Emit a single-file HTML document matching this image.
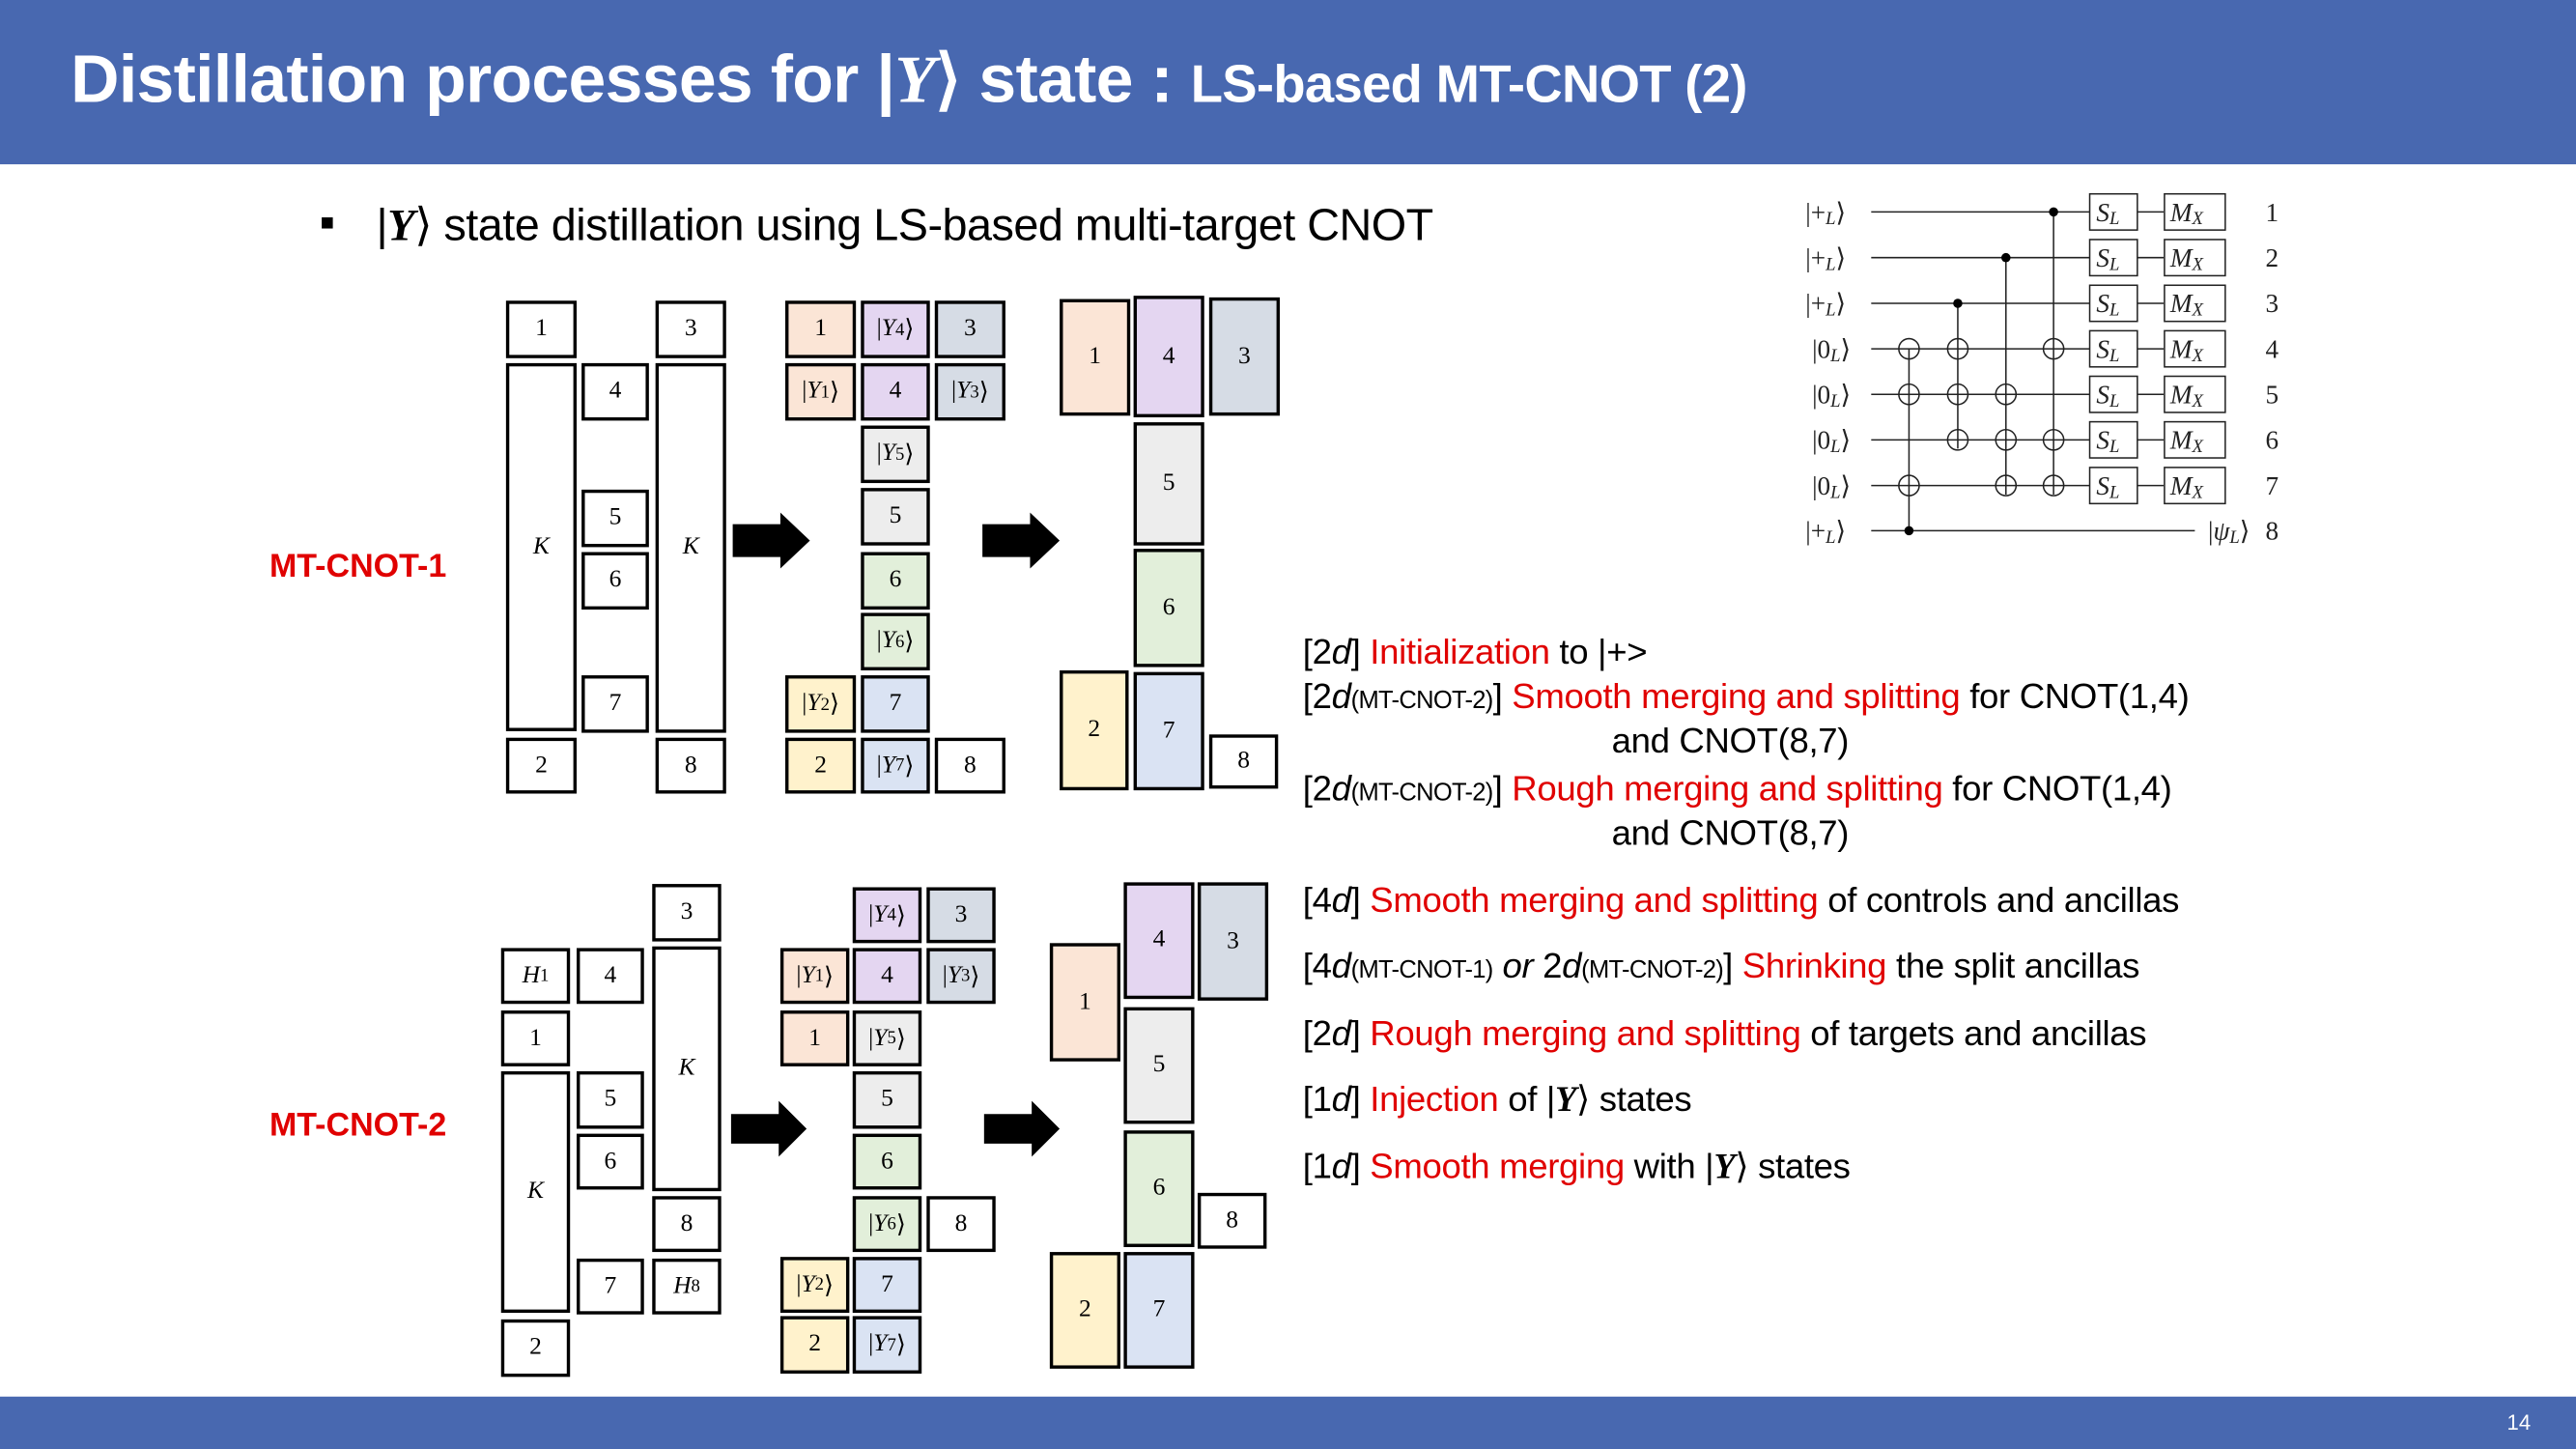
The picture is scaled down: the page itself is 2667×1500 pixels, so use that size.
<!DOCTYPE html>
<html><head><meta charset="utf-8">
<style>
html,body{margin:0;padding:0;background:#fff;}
body{width:2667px;height:1500px;overflow:hidden;position:relative;}
#s{position:absolute;left:0;top:0;width:1568px;height:882px;transform:scale(1.70089);transform-origin:0 0;font-family:"Liberation Sans",sans-serif;}
.hdr{position:absolute;left:0;top:0;width:1568px;height:100px;background:#4868b0;}
.ftr{position:absolute;left:0;top:850px;width:1568px;height:32px;background:#4868b0;}
.b{position:absolute;border:2px solid #000;box-sizing:border-box;display:flex;align-items:center;justify-content:center;font:15px "Liberation Serif",serif;color:#000;background:#fff;}
.b i{font-style:italic}
.b sub{font-size:11px}
.pe{background:#fbe5d6}.pu{background:#e4d6f1}.gb{background:#d6dce5}.lg{background:#ededed}.gr{background:#e2efda}.ye{background:#fff2cc}.bl{background:#dae3f3}
.t{position:absolute;left:793px;font-size:21.5px;letter-spacing:-0.2px;white-space:nowrap;color:#000;line-height:24px}
.t .r{color:#e00000}
.t small{font-size:15px;letter-spacing:-0.4px}
.lab{position:absolute;color:#e00000;font-weight:bold;font-size:20px;}
</style></head><body>
<div id="s">
<div class="hdr"></div>
<div style="position:absolute;left:43px;top:24px;color:#fff;font-weight:bold;font-size:41px;white-space:nowrap;letter-spacing:-0.4px">Distillation processes for |<i style="font-family:'Liberation Serif',serif">Y</i>⟩ state : <span style="font-size:32px">LS-based MT-CNOT (2)</span></div>
<div class="ftr"></div>
<div style="position:absolute;left:1526px;top:858px;color:#fff;font-size:13px">14</div>

<div style="position:absolute;left:195px;top:127px;font-size:14px">■</div>
<div style="position:absolute;left:229px;top:121px;font-size:27.5px;white-space:nowrap;letter-spacing:-0.3px">|<b><i style="font-family:'Liberation Serif',serif">Y</i></b>⟩ state distillation using LS-based multi-target CNOT</div>

<div class="lab" style="left:164px;top:334px">MT-CNOT-1</div>
<div class="lab" style="left:164px;top:674px">MT-CNOT-2</div>

<!-- Top left -->
<div class="b" style="left:308px;top:183px;width:43px;height:35px">1</div>
<div class="b" style="left:308px;top:221px;width:43px;height:224px"><i>K</i></div>
<div class="b" style="left:308px;top:449px;width:43px;height:34px">2</div>
<div class="b" style="left:354px;top:221px;width:41px;height:35px">4</div>
<div class="b" style="left:354px;top:298px;width:41px;height:35px">5</div>
<div class="b" style="left:354px;top:336px;width:41px;height:35px">6</div>
<div class="b" style="left:354px;top:411px;width:41px;height:35px">7</div>
<div class="b" style="left:399px;top:183px;width:43px;height:35px">3</div>
<div class="b" style="left:399px;top:221px;width:43px;height:225px"><i>K</i></div>
<div class="b" style="left:399px;top:449px;width:43px;height:34px">8</div>
<!-- Top middle -->
<div class="b pe" style="left:478px;top:183px;width:43px;height:35px">1</div>
<div class="b pu" style="left:524px;top:183px;width:42px;height:35px">|<i>Y</i><sub>4</sub>⟩</div>
<div class="b gb" style="left:569px;top:183px;width:43px;height:35px">3</div>
<div class="b pe" style="left:478px;top:221px;width:43px;height:35px">|<i>Y</i><sub>1</sub>⟩</div>
<div class="b pu" style="left:524px;top:221px;width:42px;height:35px">4</div>
<div class="b gb" style="left:569px;top:221px;width:43px;height:35px">|<i>Y</i><sub>3</sub>⟩</div>
<div class="b lg" style="left:524px;top:259px;width:42px;height:35px">|<i>Y</i><sub>5</sub>⟩</div>
<div class="b lg" style="left:524px;top:297px;width:42px;height:35px">5</div>
<div class="b gr" style="left:524px;top:336px;width:42px;height:35px">6</div>
<div class="b gr" style="left:524px;top:373px;width:42px;height:35px">|<i>Y</i><sub>6</sub>⟩</div>
<div class="b ye" style="left:478px;top:411px;width:43px;height:35px">|<i>Y</i><sub>2</sub>⟩</div>
<div class="b bl" style="left:524px;top:411px;width:42px;height:35px">7</div>
<div class="b ye" style="left:478px;top:449px;width:43px;height:34px">2</div>
<div class="b bl" style="left:524px;top:449px;width:42px;height:34px">|<i>Y</i><sub>7</sub>⟩</div>
<div class="b" style="left:569px;top:449px;width:43px;height:34px">8</div>
<!-- Top right -->
<div class="b pe" style="left:645px;top:182px;width:43px;height:71px">1</div>
<div class="b pu" style="left:690px;top:180px;width:43px;height:74px">4</div>
<div class="b gb" style="left:736px;top:181px;width:43px;height:72px">3</div>
<div class="b lg" style="left:690px;top:257px;width:43px;height:75px">5</div>
<div class="b gr" style="left:690px;top:334px;width:43px;height:72px">6</div>
<div class="b ye" style="left:645px;top:408px;width:42px;height:73px">2</div>
<div class="b bl" style="left:690px;top:409px;width:43px;height:72px">7</div>
<div class="b" style="left:736px;top:447px;width:42px;height:33px">8</div>

<!-- Bottom left -->
<div class="b" style="left:397px;top:538px;width:42px;height:35px">3</div>
<div class="b" style="left:305px;top:577px;width:42px;height:34px"><i>H</i><sub>1</sub></div>
<div class="b" style="left:351px;top:577px;width:41px;height:34px">4</div>
<div class="b" style="left:397px;top:576px;width:42px;height:149px"><i>K</i></div>
<div class="b" style="left:305px;top:615px;width:42px;height:34px">1</div>
<div class="b" style="left:305px;top:652px;width:42px;height:147px"><i>K</i></div>
<div class="b" style="left:351px;top:652px;width:41px;height:35px">5</div>
<div class="b" style="left:351px;top:690px;width:41px;height:34px">6</div>
<div class="b" style="left:397px;top:728px;width:42px;height:34px">8</div>
<div class="b" style="left:351px;top:766px;width:41px;height:34px">7</div>
<div class="b" style="left:397px;top:766px;width:42px;height:34px"><i>H</i><sub>8</sub></div>
<div class="b" style="left:305px;top:803px;width:42px;height:35px">2</div>
<!-- Bottom middle -->
<div class="b pu" style="left:519px;top:540px;width:42px;height:34px">|<i>Y</i><sub>4</sub>⟩</div>
<div class="b gb" style="left:564px;top:540px;width:42px;height:34px">3</div>
<div class="b pe" style="left:475px;top:577px;width:42px;height:34px">|<i>Y</i><sub>1</sub>⟩</div>
<div class="b pu" style="left:519px;top:577px;width:42px;height:34px">4</div>
<div class="b gb" style="left:564px;top:577px;width:42px;height:34px">|<i>Y</i><sub>3</sub>⟩</div>
<div class="b pe" style="left:475px;top:615px;width:42px;height:34px">1</div>
<div class="b lg" style="left:519px;top:615px;width:42px;height:34px">|<i>Y</i><sub>5</sub>⟩</div>
<div class="b lg" style="left:519px;top:652px;width:42px;height:35px">5</div>
<div class="b gr" style="left:519px;top:690px;width:42px;height:34px">6</div>
<div class="b gr" style="left:519px;top:728px;width:42px;height:34px">|<i>Y</i><sub>6</sub>⟩</div>
<div class="b" style="left:564px;top:728px;width:42px;height:34px">8</div>
<div class="b ye" style="left:475px;top:765px;width:42px;height:34px">|<i>Y</i><sub>2</sub>⟩</div>
<div class="b bl" style="left:519px;top:765px;width:42px;height:34px">7</div>
<div class="b ye" style="left:475px;top:801px;width:42px;height:35px">2</div>
<div class="b bl" style="left:519px;top:801px;width:42px;height:35px">|<i>Y</i><sub>7</sub>⟩</div>
<!-- Bottom right -->
<div class="b pe" style="left:639px;top:574px;width:43px;height:72px">1</div>
<div class="b pu" style="left:684px;top:537px;width:43px;height:71px">4</div>
<div class="b gb" style="left:729px;top:537px;width:43px;height:72px">3</div>
<div class="b lg" style="left:684px;top:613px;width:43px;height:71px">5</div>
<div class="b gr" style="left:684px;top:688px;width:43px;height:71px">6</div>
<div class="b" style="left:729px;top:726px;width:42px;height:34px">8</div>
<div class="b ye" style="left:639px;top:762px;width:43px;height:71px">2</div>
<div class="b bl" style="left:684px;top:762px;width:43px;height:71px">7</div>

<!-- Arrows + circuit -->
<svg style="position:absolute;left:0;top:0" width="1568" height="882" font-family="Liberation Serif,serif" font-size="16" fill="#222">
<polygon points="446,319 475,319 475,312 493,329 475,346 475,339 446,339" fill="#000"/>
<polygon points="598,319 627,319 627,312 645,329 627,346 627,339 598,339" fill="#000"/>
<polygon points="445,678 474,678 474,670 491,687 474,704 474,696 445,696" fill="#000"/>
<polygon points="599,678 628,678 628,670 645,687 628,704 628,696 599,696" fill="#000"/>

<g stroke="#222" stroke-width="0.9" fill="none">
<line x1="1139" y1="129" x2="1272" y2="129"/><line x1="1139" y1="156.8" x2="1272" y2="156.8"/>
<line x1="1139" y1="184.6" x2="1272" y2="184.6"/><line x1="1139" y1="212.3" x2="1272" y2="212.3"/>
<line x1="1139" y1="240" x2="1272" y2="240"/><line x1="1139" y1="267.7" x2="1272" y2="267.7"/>
<line x1="1139" y1="295.5" x2="1272" y2="295.5"/><line x1="1139" y1="323" x2="1336" y2="323"/>
<line x1="1162" y1="212.3" x2="1162" y2="323"/>
<line x1="1191.7" y1="184.6" x2="1191.7" y2="273"/>
<line x1="1221" y1="156.8" x2="1221" y2="301"/>
<line x1="1250" y1="129" x2="1250" y2="301"/>
<line x1="1301" y1="129" x2="1317" y2="129"/><line x1="1301" y1="156.8" x2="1317" y2="156.8"/><line x1="1301" y1="184.6" x2="1317" y2="184.6"/><line x1="1301" y1="212.3" x2="1317" y2="212.3"/><line x1="1301" y1="240" x2="1317" y2="240"/><line x1="1301" y1="267.7" x2="1317" y2="267.7"/><line x1="1301" y1="295.5" x2="1317" y2="295.5"/>
</g>
<g fill="#000"><circle cx="1162" cy="323" r="2.8"/><circle cx="1191.7" cy="184.6" r="2.8"/><circle cx="1221" cy="156.8" r="2.8"/><circle cx="1250" cy="129" r="2.8"/></g>
<g stroke="#222" stroke-width="0.9" fill="none">
<circle cx="1162" cy="212.3" r="6.2"/><circle cx="1162" cy="240" r="6.2"/><circle cx="1162" cy="295.5" r="6.2"/>
<circle cx="1191.7" cy="212.3" r="6.2"/><circle cx="1191.7" cy="240" r="6.2"/><circle cx="1191.7" cy="267.7" r="6.2"/>
<circle cx="1221" cy="240" r="6.2"/><circle cx="1221" cy="267.7" r="6.2"/><circle cx="1221" cy="295.5" r="6.2"/>
<circle cx="1250" cy="212.3" r="6.2"/><circle cx="1250" cy="267.7" r="6.2"/><circle cx="1250" cy="295.5" r="6.2"/>
</g>
<g stroke="#222" stroke-width="0.9" fill="#fff">
<rect x="1272" y="118" width="29" height="22"/><rect x="1272" y="145.8" width="29" height="22"/><rect x="1272" y="173.6" width="29" height="22"/><rect x="1272" y="201.3" width="29" height="22"/><rect x="1272" y="229" width="29" height="22"/><rect x="1272" y="256.7" width="29" height="22"/><rect x="1272" y="284.5" width="29" height="22"/>
<rect x="1317.5" y="118" width="37" height="22"/><rect x="1317.5" y="145.8" width="37" height="22"/><rect x="1317.5" y="173.6" width="37" height="22"/><rect x="1317.5" y="201.3" width="37" height="22"/><rect x="1317.5" y="229" width="37" height="22"/><rect x="1317.5" y="256.7" width="37" height="22"/><rect x="1317.5" y="284.5" width="37" height="22"/>
</g>
<g>
<text x="1099" y="134.5">|+<tspan font-size="11" font-style="italic" dy="2">L</tspan><tspan dy="-2">⟩</tspan></text>
<text x="1099" y="162.3">|+<tspan font-size="11" font-style="italic" dy="2">L</tspan><tspan dy="-2">⟩</tspan></text>
<text x="1099" y="190">|+<tspan font-size="11" font-style="italic" dy="2">L</tspan><tspan dy="-2">⟩</tspan></text>
<text x="1103" y="217.8">|0<tspan font-size="11" font-style="italic" dy="2">L</tspan><tspan dy="-2">⟩</tspan></text>
<text x="1103" y="245.5">|0<tspan font-size="11" font-style="italic" dy="2">L</tspan><tspan dy="-2">⟩</tspan></text>
<text x="1103" y="273.2">|0<tspan font-size="11" font-style="italic" dy="2">L</tspan><tspan dy="-2">⟩</tspan></text>
<text x="1103" y="301">|0<tspan font-size="11" font-style="italic" dy="2">L</tspan><tspan dy="-2">⟩</tspan></text>
<text x="1099" y="328.5">|+<tspan font-size="11" font-style="italic" dy="2">L</tspan><tspan dy="-2">⟩</tspan></text>
<text x="1344" y="328.5">|<tspan font-style="italic">ψ</tspan><tspan font-size="11" font-style="italic" dy="2">L</tspan><tspan dy="-2">⟩</tspan></text>
</g>
<g font-style="italic">
<text x="1276" y="134.5">S<tspan font-size="11" dy="2">L</tspan></text><text x="1276" y="162.3">S<tspan font-size="11" dy="2">L</tspan></text><text x="1276" y="190">S<tspan font-size="11" dy="2">L</tspan></text><text x="1276" y="217.8">S<tspan font-size="11" dy="2">L</tspan></text><text x="1276" y="245.5">S<tspan font-size="11" dy="2">L</tspan></text><text x="1276" y="273.2">S<tspan font-size="11" dy="2">L</tspan></text><text x="1276" y="301">S<tspan font-size="11" dy="2">L</tspan></text>
<text x="1321" y="134.5">M<tspan font-size="11" dy="2">X</tspan></text><text x="1321" y="162.3">M<tspan font-size="11" dy="2">X</tspan></text><text x="1321" y="190">M<tspan font-size="11" dy="2">X</tspan></text><text x="1321" y="217.8">M<tspan font-size="11" dy="2">X</tspan></text><text x="1321" y="245.5">M<tspan font-size="11" dy="2">X</tspan></text><text x="1321" y="273.2">M<tspan font-size="11" dy="2">X</tspan></text><text x="1321" y="301">M<tspan font-size="11" dy="2">X</tspan></text>
</g>
<g>
<text x="1379" y="134.5">1</text><text x="1379" y="162.3">2</text><text x="1379" y="190">3</text><text x="1379" y="217.8">4</text><text x="1379" y="245.5">5</text><text x="1379" y="273.2">6</text><text x="1379" y="301">7</text><text x="1379" y="328.5">8</text>
</g>
</svg>

<!-- Right text -->
<div class="t" style="top:385px">[2<i>d</i>] <span class="r">Initialization</span> to |+&gt;</div>
<div class="t" style="top:412px">[2<i>d</i><small>(MT-CNOT-2)</small>] <span class="r">Smooth merging and splitting</span> for CNOT(1,4)</div>
<div class="t" style="top:439px;left:981px">and CNOT(8,7)</div>
<div class="t" style="top:468px">[2<i>d</i><small>(MT-CNOT-2)</small>] <span class="r">Rough merging and splitting</span> for CNOT(1,4)</div>
<div class="t" style="top:495px;left:981px">and CNOT(8,7)</div>
<div class="t" style="top:536px">[4<i>d</i>] <span class="r">Smooth merging and splitting</span> of controls and ancillas</div>
<div class="t" style="top:576px">[4<i>d</i><small>(MT-CNOT-1)</small> <i>or</i> 2<i>d</i><small>(MT-CNOT-2)</small>] <span class="r">Shrinking</span> the split ancillas</div>
<div class="t" style="top:617px">[2<i>d</i>] <span class="r">Rough merging and splitting</span> of targets and ancillas</div>
<div class="t" style="top:657px">[1<i>d</i>] <span class="r">Injection</span> of |<b><i style="font-family:'Liberation Serif',serif">Y</i></b>⟩ states</div>
<div class="t" style="top:698px">[1<i>d</i>] <span class="r">Smooth merging</span> with |<b><i style="font-family:'Liberation Serif',serif">Y</i></b>⟩ states</div>
</div>
</body></html>
